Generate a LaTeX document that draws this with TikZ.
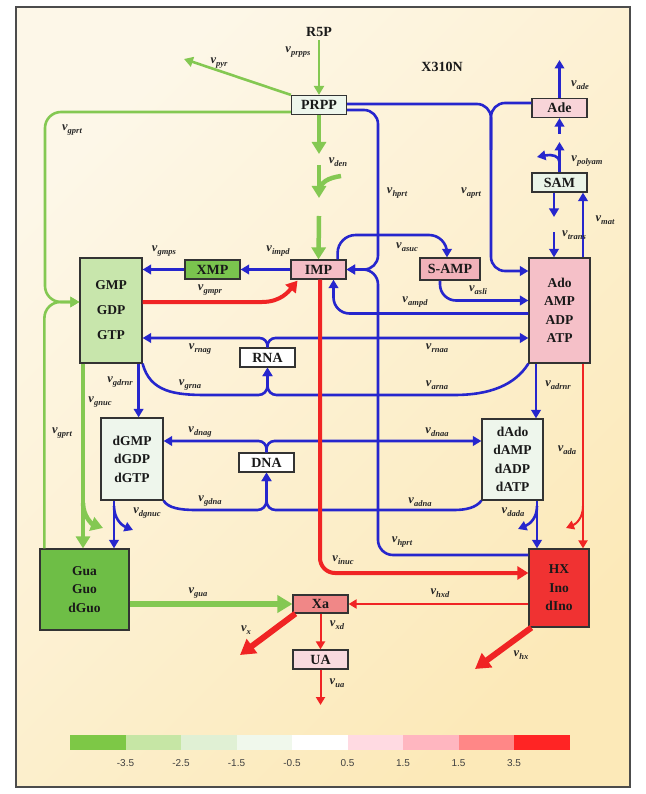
\documentclass[tikz,border=0pt]{standalone}
\usepackage{fontspec}
\setmainfont{Liberation Serif}
\newfontfamily\barfont{Liberation Sans}
\usetikzlibrary{arrows.meta,calc}
\definecolor{flowblue}{RGB}{38,38,205}
\definecolor{flowgreen}{RGB}{132,200,82}
\definecolor{flowred}{RGB}{240,36,36}
\definecolor{bgtop}{RGB}{253,247,232}
\definecolor{bgbot}{RGB}{252,233,184}
\definecolor{cprpp}{RGB}{238,246,236}
\definecolor{cade}{RGB}{248,212,216}
\definecolor{csam}{RGB}{234,244,232}
\definecolor{cxmp}{RGB}{122,196,78}
\definecolor{cimp}{RGB}{244,190,198}
\definecolor{csamp}{RGB}{242,178,186}
\definecolor{cgmp}{RGB}{200,230,172}
\definecolor{cado}{RGB}{245,192,200}
\definecolor{cdpool}{RGB}{238,246,236}
\definecolor{cgua}{RGB}{110,190,70}
\definecolor{chx}{RGB}{240,50,50}
\definecolor{cxa}{RGB}{240,135,135}
\definecolor{cua}{RGB}{249,218,222}
\definecolor{cb1}{RGB}{125,200,70}
\definecolor{cb2}{RGB}{198,230,165}
\definecolor{cb3}{RGB}{224,240,212}
\definecolor{cb4}{RGB}{240,248,236}
\definecolor{cb5}{RGB}{255,255,255}
\definecolor{cb6}{RGB}{255,218,226}
\definecolor{cb7}{RGB}{255,182,192}
\definecolor{cb8}{RGB}{255,135,135}
\definecolor{cb9}{RGB}{255,36,36}
\newcommand{\vflux}[1]{\textbf{\textit{v}}\raisebox{-2.5pt}{\fontsize{8.5}{8.5}\selectfont\bfseries\itshape #1}}
\tikzset{
  met/.style={draw=black!80, line width=1.2pt, inner sep=0pt, text=black!90, font=\bfseries\fontsize{14}{14}\selectfont, minimum width=55pt, minimum height=19pt},
  pool/.style={met, align=center, font=\bfseries\fontsize{13.5}{18.5}\selectfont},
  lab/.style={inner sep=0pt, text=black!85, font=\fontsize{12.5}{12.5}\selectfont},
  title/.style={inner sep=0pt, text=black!90, font=\bfseries\fontsize{14}{14}\selectfont},
  barlab/.style={inner sep=0pt, text=black!75, font=\barfont\fontsize{10}{10}\selectfont},
  bline/.style={draw=flowblue, line width=2.6pt},
  bflow/.style={bline, -{Triangle[length=8.5pt,width=9.5pt]}},
  gline/.style={draw=flowgreen, line width=2.6pt},
  gflow/.style={gline, -{Triangle[length=9pt,width=10pt]}},
  gthick/.style={draw=flowgreen, line width=4.5pt, -{Triangle[length=12pt,width=14pt]}},
  rflow/.style={draw=flowred, line width=2pt, -{Triangle[length=8pt,width=9pt]}},
  rmid/.style={draw=flowred, line width=4pt, -{Triangle[length=11pt,width=13pt]}},
  rthick/.style={draw=flowred, line width=6pt, -{Triangle[length=15pt,width=17pt]}}
}
\begin{document}
\begin{tikzpicture}[x=1pt,y=-1pt]
  \useasboundingbox (0,0) rectangle (645,794);
  \shade[top color=bgtop, bottom color=bgbot, shading angle=45] (16,7) rectangle (630,787);
  \draw[black!70, line width=1.2pt] (16,7) rectangle (630,787);

  % metabolites
  \node[title] (r5p) at (319,32) {R5P};
  \node[title] (strain) at (442,67) {X310N};
  \node[met, fill=cprpp] (prpp) at (319,105) {PRPP};
  \node[met, fill=cade] (ade) at (559.5,108) {Ade};
  \node[met, fill=csam] (sam) at (559.5,182.5) {SAM};
  \node[met, fill=cxmp] (xmp) at (212.5,269.5) {XMP};
  \node[met, fill=cimp] (imp) at (318.5,269.5) {IMP};
  \node[met, fill=csamp, minimum width=60pt, minimum height=22pt] (samp) at (450,269) {S-AMP};
  \node[pool, fill=cgmp, minimum width=62pt, minimum height=105pt, font=\bfseries\fontsize{13.5}{25}\selectfont] (gmp) at (111,310.5) {GMP\\GDP\\GTP};
  \node[pool, fill=cado, minimum width=61pt, minimum height=105pt] (ado) at (559.5,310.5) {Ado\\AMP\\ADP\\ATP};
  \node[met, fill=white] (rna) at (267.5,357.5) {RNA};
  \node[pool, fill=cdpool, minimum width=62pt, minimum height=82pt] (dgmp) at (132,459) {dGMP\\dGDP\\dGTP};
  \node[met, fill=white] (dna) at (266.5,462.5) {DNA};
  \node[pool, fill=cdpool, minimum width=61pt, minimum height=81pt] (dado) at (512.5,459.5) {dAdo\\dAMP\\dADP\\dATP};
  \node[pool, fill=cgua, minimum width=89pt, minimum height=81pt] (gua) at (84.5,589.5) {Gua\\Guo\\dGuo};
  \node[pool, fill=chx, minimum width=60pt, minimum height=78pt] (hx) at (559,588) {HX\\Ino\\dIno};
  \node[met, fill=cxa, minimum height=18pt] (xa) at (320.5,604) {Xa};
  \node[met, fill=cua] (ua) at (320.5,659.5) {UA};

  % free ends
  \coordinate (pyrtip) at (184,59);
  \coordinate (adetip) at (559.5,60);
  \coordinate (den1) at (319,154);
  \coordinate (den2) at (319,165);
  \coordinate (den3) at (319,198);
  \coordinate (den4) at (319,216);
  \coordinate (denbr) at (341,176);
  \coordinate (polyam1) at (559.5,142);
  \coordinate (polyam2) at (559.5,134);
  \coordinate (polyambr) at (559.5,162);
  \coordinate (polyamtip) at (537,157);
  \coordinate (trans1) at (554,217);
  \coordinate (trans2) at (554,232);
  \coordinate (aprtv) at (491,150);
  \coordinate (hprtv) at (378,200);
  \coordinate (hprtw) at (378,420);
  \coordinate (gprtv) at (45,200);
  \coordinate (asuctop) at (390,235);
  \coordinate (dgnucbr) at (114,506);
  \coordinate (dgnuctip) at (133,530);
  \coordinate (gnucbr) at (83,503);
  \coordinate (gnuctip) at (103,528);
  \coordinate (dadabr) at (537,506);
  \coordinate (dadatip) at (518,529);
  \coordinate (adabr) at (583,506);
  \coordinate (adatip) at (566,528);
  \coordinate (xtip) at (240,655);
  \coordinate (hxtip) at (475,669);
  \coordinate (uatip) at (320.5,705);

  % blue reactions
  \draw[bflow] (imp.west) -- (xmp.east);
  \draw[bflow] (xmp.west) -- (xmp.west -| gmp.east);
  \draw[bflow, rounded corners=18pt] ([xshift=-9pt]imp.north east) |- (asuctop) -| ([xshift=-3pt]samp.north);
  \draw[bflow, rounded corners=16pt] ([xshift=-10pt]samp.south) |- ([yshift=10pt]ado.west);
  \draw[bflow, rounded corners=16pt] ([yshift=-3pt]ado.west) -| ([xshift=15pt]imp.south);
  \draw[bflow, rounded corners=14pt] ([yshift=1pt]prpp.east) -| (aprtv) |- ([yshift=39.5pt]ado.west);
  \draw[bline, rounded corners=14pt] ([yshift=5pt]ade.west) -| (aprtv);
  \draw[bflow, rounded corners=14pt] ([yshift=-5pt]prpp.east) -| (hprtv) |- (imp.east);
  \draw[bflow, rounded corners=15pt] ([yshift=33pt]hx.west) -| (hprtw) |- (imp.east);
  \draw[bflow, rounded corners=8pt] (rna.north) |- ([yshift=-27.5pt]gmp.east);
  \draw[bflow, rounded corners=8pt] (rna.north) |- ([yshift=-27.5pt]ado.west);
  \draw[bflow, rounded corners=9pt] (gmp.south east) .. controls (150,392) and (175,395) .. (215,395) -| (rna.south);
  \draw[bflow, rounded corners=9pt] (ado.south west) .. controls (515,385) and (490,395) .. (445,395) -| (rna.south);
  \draw[bflow] ([xshift=-4pt]gmp.south east) -- ([xshift=-4pt]gmp.south east |- dgmp.north);
  \draw[bflow, rounded corners=8pt] (dna.north) |- ([yshift=18pt]dgmp.east);
  \draw[bflow, rounded corners=8pt] (dna.north) |- ([yshift=18.5pt]dado.west);
  \draw[bflow, rounded corners=9pt] (dgmp.south east) .. controls (168,508) and (180,510) .. (205,510) -| (dna.south);
  \draw[bflow, rounded corners=9pt] (dado.south west) .. controls (476,508) and (465,510) .. (445,510) -| (dna.south);
  \draw[bflow] ([xshift=-23.5pt]ado.south) -- ([xshift=-23.5pt]ado.south |- dado.north);
  \draw[bflow] ([xshift=24.5pt]dado.south) -- ([xshift=24.5pt]dado.south |- hx.north);
  \draw[bflow] (dadabr) .. controls (537,518) and (530,524) .. (dadatip);
  \draw[bflow] ([xshift=-18pt]dgmp.south) -- ([xshift=-18pt]dgmp.south |- gua.north);
  \draw[bflow] (dgnucbr) .. controls (114,518) and (121,525) .. (dgnuctip);
  \draw[bflow] (ade.north) -- (adetip);
  \draw[bflow] (sam.north) -- (polyam1);
  \draw[bflow] (polyam2) -- (ade.south);
  \draw[bflow] (polyambr) .. controls (559.5,156) and (552,154) .. (polyamtip);
  \draw[bflow] ([xshift=-5.5pt]sam.south) -- (trans1);
  \draw[bflow] (trans2) -- ([xshift=-5.5pt]ado.north);
  \draw[bflow] ([xshift=23.5pt]ado.north) -- ([xshift=23.5pt]ado.north |- sam.south);

  % green reactions
  \draw[gflow] ([yshift=-3pt]r5p.south) -- (prpp.north);
  \draw[gflow] (prpp.north west) -- (pyrtip);
  \draw[gflow, rounded corners=16pt] ([yshift=-7pt]prpp.west) -| (gprtv) |- ([yshift=8.5pt]gmp.west);
  \draw[gflow, rounded corners=16pt] ([xshift=5pt]gua.north west) |- ([yshift=8.5pt]gmp.west);
  \draw[gthick] (prpp.south) -- (den1);
  \draw[gthick] (den2) -- (den3);
  \draw[draw=flowgreen, line width=4.5pt] (denbr) .. controls (328,178) and (320,182) .. (319,192);
  \draw[gthick] (den4) -- (imp.north);
  \draw[gthick] ([xshift=-28pt]gmp.south) -- ([xshift=-28pt]gmp.south |- gua.north);
  \draw[gthick] (gnucbr) .. controls (83,516) and (92,524) .. (gnuctip);
  \draw[draw=flowgreen, line width=6pt, -{Triangle[length=15pt,width=17pt]}] (xa.west -| gua.east) -- (xa.west);

  % red reactions
  \draw[rmid] ([yshift=8.5pt]gmp.east) -- (262,302) .. controls (281,302) and (289,291) .. ([xshift=-21pt,yshift=-1pt]imp.south);
  \draw[rmid, rounded corners=15pt] ([xshift=1.5pt]imp.south) |- ([yshift=15pt]hx.west);
  \draw[rflow] ([xshift=23.5pt]ado.south) -- ([xshift=23.5pt]ado.south |- hx.north);
  \draw[rflow] (adabr) .. controls (583,518) and (576,524) .. (adatip);
  \draw[rflow] (xa.east -| hx.west) -- (xa.east);
  \draw[rflow] (xa.south) -- (ua.north);
  \draw[rflow] (ua.south) -- (uatip);
  \draw[rthick] ([xshift=3pt]xa.south west) -- (xtip);
  \draw[rthick] ([xshift=3pt]hx.south west) -- (hxtip);

  % flux labels
  \node[lab] (lprpps) at (298,52) {\vflux{prpps}};
  \node[lab] (lpyr) at (219,63) {\vflux{pyr}};
  \node[lab] (lgprtA) at (72,130) {\vflux{gprt}};
  \node[lab] (lden) at (338,162) {\vflux{den}};
  \node[lab] (lhprtA) at (397,193) {\vflux{hprt}};
  \node[lab] (laprt) at (471,193) {\vflux{aprt}};
  \node[lab] (lade) at (580,85) {\vflux{ade}};
  \node[lab] (lpolyam) at (587,161) {\vflux{polyam}};
  \node[lab] (ltrans) at (574,235) {\vflux{trans}};
  \node[lab] (lmat) at (605,220) {\vflux{mat}};
  \node[lab] (lgmps) at (164,251) {\vflux{gmps}};
  \node[lab] (limpd) at (278,251) {\vflux{impd}};
  \node[lab] (lasuc) at (407,247) {\vflux{asuc}};
  \node[lab] (lgmpr) at (210,290) {\vflux{gmpr}};
  \node[lab] (lasli) at (478,290) {\vflux{asli}};
  \node[lab] (lampd) at (415,302) {\vflux{ampd}};
  \node[lab] (lrnag) at (200,349) {\vflux{rnag}};
  \node[lab] (lrnaa) at (437,348) {\vflux{rnaa}};
  \node[lab] (lgrna) at (190,385) {\vflux{grna}};
  \node[lab] (larna) at (437,385) {\vflux{arna}};
  \node[lab] (lgdrnr) at (120,382) {\vflux{gdrnr}};
  \node[lab] (lgnuc) at (100,402) {\vflux{gnuc}};
  \node[lab] (ladrnr) at (558,385) {\vflux{adrnr}};
  \node[lab] (lgprtB) at (62,433) {\vflux{gprt}};
  \node[lab] (ldnag) at (200,432) {\vflux{dnag}};
  \node[lab] (ldnaa) at (437,432) {\vflux{dnaa}};
  \node[lab] (lada) at (567,450) {\vflux{ada}};
  \node[lab] (lgdna) at (210,501) {\vflux{gdna}};
  \node[lab] (ladna) at (420,502) {\vflux{adna}};
  \node[lab] (ldgnuc) at (147,513) {\vflux{dgnuc}};
  \node[lab] (ldada) at (513,512) {\vflux{dada}};
  \node[lab] (lhprtB) at (402,542) {\vflux{hprt}};
  \node[lab] (linuc) at (343,560) {\vflux{inuc}};
  \node[lab] (lgua) at (198,593) {\vflux{gua}};
  \node[lab] (lhxd) at (440,593) {\vflux{hxd}};
  \node[lab] (lx) at (246,630) {\vflux{x}};
  \node[lab] (lxd) at (337,625) {\vflux{xd}};
  \node[lab] (lhx) at (521,655) {\vflux{hx}};
  \node[lab] (lua) at (337,683) {\vflux{ua}};

  % colour scale
  \foreach \c [count=\i from 0] in {cb1,cb2,cb3,cb4,cb5,cb6,cb7,cb8,cb9}
    \fill[\c] ({70+55.5*\i},735) rectangle ++(55.5,15);
  \foreach \t [count=\i] in {-3.5,-2.5,-1.5,-0.5,0.5,1.5,1.5,3.5}
    \node[barlab] (bar\i) at ({70+55.5*\i},763) {\t};
\end{tikzpicture}
\end{document}
